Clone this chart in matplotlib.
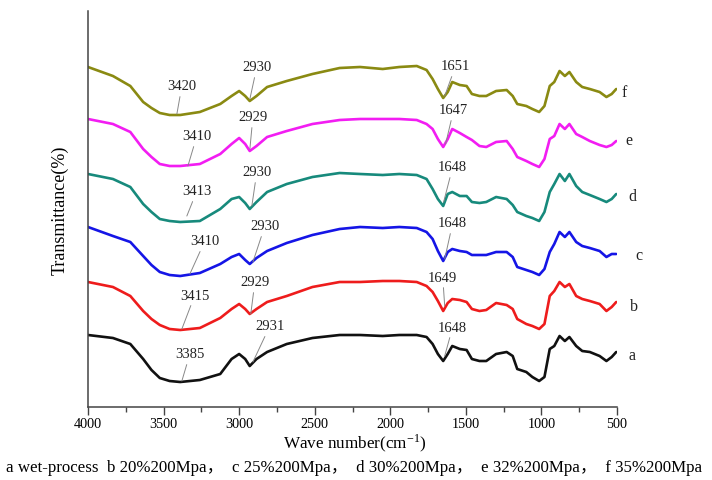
import matplotlib
matplotlib.use("Agg")
import matplotlib.pyplot as plt
from matplotlib.ticker import MultipleLocator

# ---------------- data ----------------
wavenumber = [4000, 3835, 3720, 3635, 3580, 3525, 3460, 3390, 3260, 3125, 3050, 3000, 2960,
              2930, 2885, 2815, 2685, 2515, 2335, 2200, 2050, 1940, 1825, 1760, 1720, 1685,
              1650, 1620, 1590, 1540, 1495, 1460, 1410, 1365, 1300, 1230, 1190, 1160,
              1100, 1060, 1015, 980, 945, 915, 880, 845, 815, 770, 730, 680, 615, 570,
              535, 505]

# transmittance (arbitrary offset units, each curve stacked)
trans_a = [72, 69, 63, 48, 37, 29, 26, 25, 27, 33, 48, 53, 48, 41, 48, 55, 63, 69, 72, 72,
           71, 72, 72, 70, 63, 53, 46, 53, 61, 58, 57, 48, 46, 46, 53, 55, 51, 38, 35, 30,
           26, 30, 58, 61, 71, 66, 70, 61, 56, 55, 51, 46, 50, 55]
trans_b = [125, 120, 111, 96, 88, 82, 78, 77, 79, 89, 98, 103, 98, 93, 98, 105, 111, 120,
           125, 125, 126, 126, 125, 121, 115, 106, 96, 104, 108, 107, 105, 98, 96, 97, 104,
           102, 98, 88, 83, 81, 78, 83, 111, 116, 125, 120, 123, 111, 108, 106, 103, 96,
           100, 105]
trans_c = [180, 171, 165, 151, 142, 135, 132, 131, 134, 143, 150, 153, 147, 143, 149, 156,
           164, 172, 178, 180, 179, 180, 179, 175, 168, 156, 146, 155, 158, 156, 155, 152,
           152, 152, 155, 155, 150, 140, 137, 135, 132, 138, 155, 163, 175, 170, 175, 165,
           161, 159, 156, 150, 153, 153]
trans_d = [233, 228, 220, 203, 195, 188, 186, 185, 186, 198, 208, 210, 204, 198, 205, 215,
           223, 230, 234, 233, 232, 233, 232, 228, 218, 208, 201, 213, 215, 211, 211, 205,
           204, 205, 210, 208, 202, 195, 191, 189, 186, 195, 215, 223, 233, 226, 233, 221,
           215, 212, 208, 205, 208, 213]
trans_e = [288, 283, 275, 258, 250, 243, 241, 241, 243, 253, 263, 269, 263, 256, 261, 270,
           276, 283, 287, 288, 288, 288, 287, 283, 278, 268, 260, 268, 278, 274, 270, 267,
           261, 260, 265, 266, 258, 250, 246, 243, 240, 248, 268, 271, 283, 278, 283, 273,
           270, 266, 262, 260, 262, 266]
trans_f = [340, 331, 321, 305, 299, 294, 292, 292, 295, 303, 311, 316, 311, 306, 311, 320,
           326, 333, 339, 340, 338, 340, 341, 337, 328, 318, 309, 315, 325, 322, 321, 313,
           311, 311, 316, 317, 311, 303, 301, 298, 295, 301, 321, 325, 336, 331, 335, 325,
           320, 318, 315, 310, 313, 318]

series_names = ["a", "b", "c", "d", "e", "f"]
series_values = [trans_a, trans_b, trans_c, trans_d, trans_e, trans_f]
series_colors = ["#111111", "#ee1c1c", "#1515e6", "#178a7c", "#f21df2", "#8a8a12"]

# peak labels per series: (label, wavenumber)
peaks_a = [("3385", 3385), ("2931", 2931), ("1648", 1648)]
peaks_b = [("3415", 3415), ("2929", 2929), ("1649", 1649)]
peaks_c = [("3410", 3410), ("2930", 2930), ("1648", 1648)]
peaks_d = [("3413", 3413), ("2930", 2930), ("1648", 1648)]
peaks_e = [("3410", 3410), ("2929", 2929), ("1647", 1647)]
peaks_f = [("3420", 3420), ("2930", 2930), ("1651", 1651)]
series_peaks = [peaks_a, peaks_b, peaks_c, peaks_d, peaks_e, peaks_f]

caption = ("a wet-process  b 20%200Mpa，  c 25%200Mpa，  d 30%200Mpa，  "
           "e 32%200Mpa，  f 35%200Mpa")

# ---------------- layout (annotation placement) ----------------
# (text_x, text_y, point_x, point_y) in data coords for each peak label
peak_layout = [
    [(3326, 53, 3379, 26), (2797, 81, 2909, 45), (1587, 80, 1640, 51)],
    [(3293, 112, 3379, 78), (2896, 125, 2923, 93), (1653, 130, 1640, 101)],
    [(3227, 166, 3326, 133), (2830, 181, 2909, 145), (1587, 184, 1640, 148)],
    [(3280, 216, 3346, 191), (2883, 235, 2916, 201), (1587, 240, 1647, 205)],
    [(3280, 271, 3339, 241), (2909, 290, 2929, 258), (1581, 297, 1634, 263)],
    [(3379, 321, 3412, 293), (2883, 340, 2929, 308), (1568, 341, 1640, 311)],
]
letter_pos = [(398, 52), (391, 101), (358, 152), (398, 211), (424, 267), (450, 315)]

serif = ["Liberation Serif", "DejaVu Serif"]
plt.rcParams["font.family"] = serif
plt.rcParams["mathtext.fontset"] = "stix"

fig = plt.figure(figsize=(7.12, 4.81), dpi=100)
ax = fig.add_axes([88 / 712, 1 - 408 / 481, (617 - 88) / 712, (408 - 12) / 481])

for vals, col in zip(series_values, series_colors):
    ax.plot(wavenumber, vals, color=col, lw=1.9, solid_joinstyle="round",
            solid_capstyle="round")

for peaks, lay in zip(series_peaks, peak_layout):
    for (lab, _w), (tx, ty, px, py) in zip(peaks, lay):
        ax.annotate(lab, xy=(px, py), xytext=(tx, ty), ha="center", va="center",
                    fontsize=10.5, color="#222222",
                    arrowprops=dict(arrowstyle="-", color="#888888", lw=0.7,
                                    shrinkA=1, shrinkB=0))

for name, (lx, ly) in zip(series_names, letter_pos):
    ax.text(lx, ly, name, ha="center", va="center", fontsize=11.5, color="#222222",
            clip_on=False)

ax.set_xlim(4000, 500)
ax.set_ylim(0, 396)
ax.xaxis.set_major_locator(MultipleLocator(500))
ax.xaxis.set_minor_locator(MultipleLocator(250))
ax.set_yticks([])
for s in ["top", "right"]:
    ax.spines[s].set_visible(False)
for s in ["left", "bottom"]:
    ax.spines[s].set_color("#444444")
    ax.spines[s].set_linewidth(1.1)
ax.tick_params(axis="x", which="major", direction="out", length=6, width=1.0,
               color="#444444", labelsize=10.2, pad=1)
ax.tick_params(axis="x", which="minor", direction="out", length=3.5, width=1.0,
               color="#444444")

ax.set_ylabel("Transmittance(%)", fontsize=13, labelpad=14)
fig.text(355 / 712, 1 - 443 / 481, "Wave number(cm$^{\\mathregular{-1}}$)",
         ha="center", va="center", fontsize=12.3)

fig.text(354 / 712, 1 - 468 / 481, caption, ha="center", va="center", fontsize=12.2,
         family=["Liberation Serif", "Noto Sans CJK SC"])

fig.savefig("out.png", dpi=100)
